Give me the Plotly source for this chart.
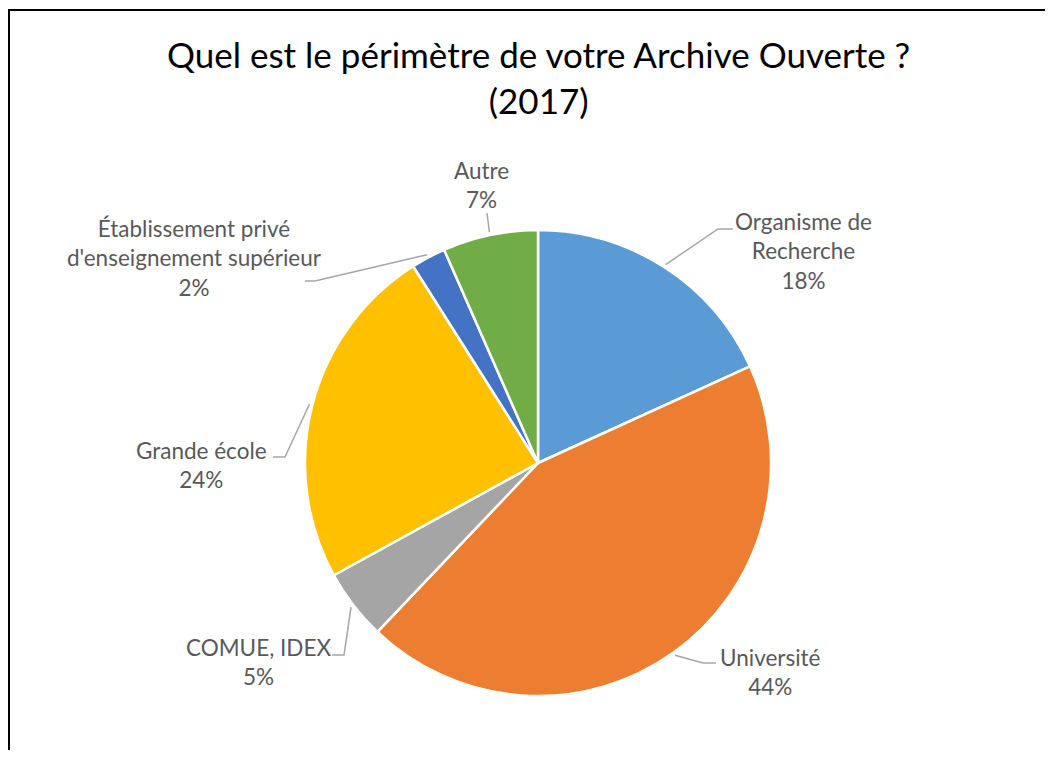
import math
import plotly.graph_objects as go

# ---- data ----
categories = ["Organisme de<br>Recherche", "Université", "COMUE, IDEX", "Grande école",
              "Établissement privé<br>d'enseignement supérieur", "Autre"]
values = [18.2, 43.9, 4.9, 24.0, 2.4, 6.6]
colors = ["#5B9BD5", "#ED7D31", "#A5A5A5", "#FFC000", "#4472C4", "#70AD47"]
title_text = "Quel est le périmètre de votre Archive Ouverte ?<br>(2017)"

# ---- layout constants (window pixels) ----
WIN_W, WIN_H = 1053, 758
OFF = 8  # default body margin of the page
W, H = WIN_W - 2 * OFF, WIN_H - 2 * OFF
CX, CY, R = 538, 463, 233
R_LEADER = 236
label_xy = [(803, 251), (770, 672), (258, 662), (201, 465), (194, 258), (481, 185)]
leader_start = [(733, 229), (716, 663), (332, 655), (273, 457), (305, 281), (487, 213)]
leader_elbow = [(718, 229), (703, 663), (344, 655), (285, 457), (315, 281), (487, 213)]

FONT = "Lato, Carlito, Calibri, sans-serif"


def px(x):
    return (x - OFF) / W


def py(y):
    return 1 - (y - OFF) / H


fig = go.Figure(go.Pie(
    labels=categories,
    values=values,
    sort=False,
    direction="clockwise",
    rotation=0,
    marker=dict(colors=colors, line=dict(color="white", width=2.5)),
    textinfo="none",
    hoverinfo="label+percent",
    showlegend=False,
    domain=dict(x=[px(CX - R), px(CX + R)], y=[py(CY + R), py(CY - R)]),
))

total = sum(values)
annotations = []
shapes = []
cum = 0.0
for i, v in enumerate(values):
    mid = (cum + v / 2) / total * 2 * math.pi
    cum += v
    ix = CX + R_LEADER * math.sin(mid)
    iy = CY - R_LEADER * math.cos(mid)
    sx, sy = leader_start[i]
    ex, ey = leader_elbow[i]
    path = f"M {px(sx)} {py(sy)} L {px(ex)} {py(ey)} L {px(ix)} {py(iy)}"
    shapes.append(dict(type="path", xref="paper", yref="paper", path=path,
                       line=dict(color="#A6A6A6", width=1.5)))
    pct = round(v / total * 100)
    lx, ly = label_xy[i]
    annotations.append(dict(
        x=px(lx), y=py(ly), xref="paper", yref="paper",
        text=f"{categories[i]}<br>{pct}%", showarrow=False,
        xanchor="center", yanchor="middle", align="center",
        font=dict(family=FONT, size=22.5, color="#595959"),
    ))

# title
annotations.append(dict(
    x=px(538), y=py(77), xref="paper", yref="paper",
    text=title_text, showarrow=False, xanchor="center", yanchor="middle",
    align="center", font=dict(family=FONT, size=35, color="#000000"),
))

# chart border (left & top visible)
shapes.append(dict(type="line", xref="paper", yref="paper",
                   x0=px(9), y0=py(9.5), x1=px(9), y1=py(800),
                   line=dict(color="black", width=2)))
shapes.append(dict(type="line", xref="paper", yref="paper",
                   x0=px(8), y0=py(10), x1=px(1048), y1=py(10),
                   line=dict(color="black", width=2)))

fig.update_layout(
    width=W, height=H,
    margin=dict(l=0, r=0, t=0, b=0),
    paper_bgcolor="white", plot_bgcolor="white",
    annotations=annotations, shapes=shapes,
)

fig.write_html("out.html")
